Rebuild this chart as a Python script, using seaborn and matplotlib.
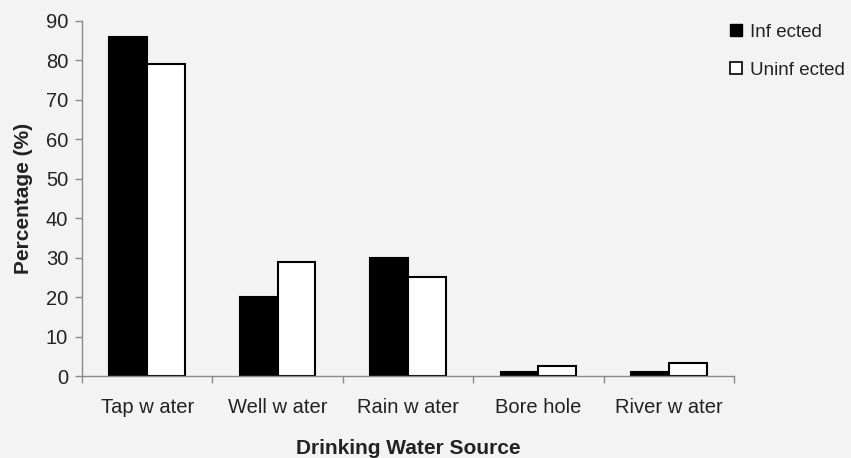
import matplotlib
matplotlib.use("Agg")
import matplotlib.pyplot as plt
from matplotlib.lines import Line2D
from matplotlib.ticker import FixedLocator
import numpy as np
import pandas as pd
import seaborn as sns

# Drinking water source by infection status (%)
sources = ["Tap w ater", "Well w ater", "Rain w ater", "Bore hole", "River w ater"]
infected = [86, 20, 30, 1, 1]
uninfected = [79, 29, 25, 2.5, 3.4]
groups = ["Inf ected", "Uninf ected"]
yticks = list(range(0, 91, 10))

df = pd.DataFrame({
    "source": sources * 2,
    "value": infected + uninfected,
    "group": [groups[0]] * len(sources) + [groups[1]] * len(sources),
})

bg = "#f3f3f3"
sns.set_theme(style="white")
plt.rcParams["font.family"] = ["Liberation Sans", "DejaVu Sans"]

fig = plt.figure(figsize=(8.51, 4.58), dpi=100, facecolor=bg)
ax = fig.add_axes([82 / 851, 1 - 376 / 458, (734 - 82) / 851, (376 - 21) / 458])
ax.set_facecolor(bg)

sns.barplot(data=df, x="source", y="value", hue="group", order=sources,
            hue_order=groups, palette=["black", "white"], edgecolor="black",
            linewidth=1.5, width=0.58, gap=0, ax=ax, legend=False)

ax.set_xlim(-0.5, len(sources) - 0.5)
ax.set_ylim(0, 90)
ax.set_yticks(yticks)

for s in ["top", "right"]:
    ax.spines[s].set_visible(False)
for s in ["left", "bottom"]:
    ax.spines[s].set_color("#8a8a8a")
    ax.spines[s].set_linewidth(1.0)

ax.tick_params(axis="y", which="major", length=5, width=1, color="#8a8a8a",
               direction="out", left=True, pad=5, labelsize=14.5, labelcolor="#222222")
ax.tick_params(axis="x", which="major", length=0, pad=16, labelsize=14.5,
               labelcolor="#222222")
ax.xaxis.set_minor_locator(FixedLocator(np.arange(-0.5, len(sources), 1.0)))
ax.tick_params(axis="x", which="minor", length=5, width=1, color="#8a8a8a",
               direction="out", bottom=True)

ax.set_xlabel("Drinking Water Source", fontsize=15, fontweight="bold",
              color="#222222", labelpad=16)
ax.set_ylabel("Percentage (%)", fontsize=15, fontweight="bold",
              color="#222222", labelpad=9)

handles = [
    Line2D([], [], linestyle="none", marker="s", markersize=8.5,
           markerfacecolor="black", markeredgecolor="black"),
    Line2D([], [], linestyle="none", marker="s", markersize=8.5,
           markerfacecolor="white", markeredgecolor="black", markeredgewidth=1.2),
]
fig.legend(handles, groups, loc="upper left", bbox_to_anchor=(712 / 851, 1 - 7 / 458),
           frameon=False, fontsize=13.5, handlelength=0.8, handletextpad=0.3,
           labelspacing=1.1, labelcolor="#222222")

fig.savefig("out.png", dpi=100, facecolor=bg)
